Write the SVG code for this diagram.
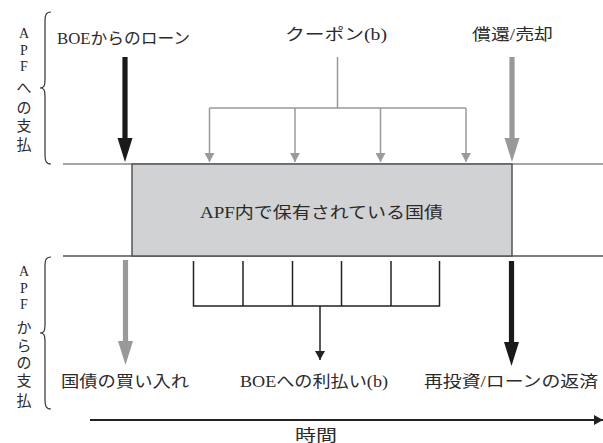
<svg xmlns="http://www.w3.org/2000/svg" width="603" height="443" viewBox="0 0 603 443">
<style>
text{font-family:"Liberation Serif","Noto Sans CJK JP",serif;fill:#2a2a2a;font-size:16px}
.v{text-anchor:middle;font-size:15px}
.l{font-size:14px}
.g{stroke:#9a9a9a;stroke-width:1.5;fill:none}
.k{stroke:#222;stroke-width:1.5;fill:none}
.br{stroke:#333;stroke-width:1.2;fill:none}
</style>
<defs>
<path id="big" d="M-2.6,-105 H2.6 V-24 H7.5 L0,0 L-7.5,-24 H-2.6 Z"/>
<marker id="ag" markerWidth="10" markerHeight="9" refX="5" refY="9" markerUnits="userSpaceOnUse" viewBox="0 0 10 9"><path d="M0,0 H10 L5,9 Z" fill="#9a9a9a"/></marker>
<marker id="ak" markerWidth="10" markerHeight="9" refX="5" refY="9" markerUnits="userSpaceOnUse" viewBox="0 0 10 9"><path d="M0,0 H10 L5,9 Z" fill="#222"/></marker>
<marker id="at" markerWidth="9" markerHeight="10" refX="9" refY="5" markerUnits="userSpaceOnUse" viewBox="0 0 9 10"><path d="M0,0 L9,5 L0,10 Z" fill="#222"/></marker>
</defs>
<g id="baselines">
<line x1="63" y1="164" x2="603" y2="164" stroke="#888" stroke-width="1.5"/>
<line x1="63" y1="256" x2="603" y2="256" stroke="#555" stroke-width="1.5"/>
</g>
<g id="bonds">
<rect x="132" y="164" width="380" height="92" fill="#d1d2d4" stroke="#555" stroke-width="1.5"/>
<text x="321.5" y="218" text-anchor="middle" font-size="17" textLength="243" lengthAdjust="spacingAndGlyphs">APF内で保有されている国債</text>
</g>
<g id="brace-top">
<path class="br" d="M51,12 C46,12 45,15 45,21 V80 C45,86 44,88 40,88 C44,88 45,90 45,96 V155 C45,161 46,164 51,164"/>
<text class="v l" x="24" y="38">A</text>
<text class="v l" x="24" y="54.5">P</text>
<text class="v l" x="24" y="71">F</text>
<text class="v" x="24" y="93">へ</text>
<text class="v" x="24" y="113">の</text>
<text class="v" x="24" y="131">支</text>
<text class="v" x="24" y="150">払</text>
</g>
<g id="brace-bottom">
<path class="br" d="M51,257 C46,257 45,260 45,266 V325 C45,331 44,333 40,333 C44,333 45,335 45,341 V400 C45,406 46,409 51,409"/>
<text class="v l" x="24" y="276">A</text>
<text class="v l" x="24" y="292.5">P</text>
<text class="v l" x="24" y="309">F</text>
<text class="v" x="24" y="333">か</text>
<text class="v" x="24" y="351">ら</text>
<text class="v" x="24" y="368">の</text>
<text class="v" x="24" y="386">支</text>
<text class="v" x="24" y="406">払</text>
</g>
<g id="labels">
<text x="57" y="44" textLength="133" lengthAdjust="spacingAndGlyphs">BOEからのローン</text>
<text x="285" y="40" textLength="102" lengthAdjust="spacingAndGlyphs">クーポン(b)</text>
<text x="472" y="40" textLength="81" lengthAdjust="spacingAndGlyphs">償還/売却</text>
<text x="61" y="387" textLength="128" lengthAdjust="spacingAndGlyphs">国債の買い入れ</text>
<text x="240" y="387" textLength="148" lengthAdjust="spacingAndGlyphs">BOEへの利払い(b)</text>
<text x="424" y="387" textLength="174" lengthAdjust="spacingAndGlyphs">再投資/ローンの返済</text>
<text x="295" y="441" textLength="42" lengthAdjust="spacingAndGlyphs">時間</text>
</g>
<g id="connectors">
<use href="#big" transform="translate(125,162)" fill="#1a1a1a"/>
<use href="#big" transform="translate(512,162)" fill="#999"/>
<use href="#big" transform="translate(125.5,365)" fill="#999"/>
<use href="#big" transform="translate(511.5,366)" fill="#1a1a1a"/>
<path class="g" d="M337.5,57 V108 M209.5,108 H466"/>
<line class="g" x1="209.5" y1="108" x2="209.5" y2="162" marker-end="url(#ag)"/>
<line class="g" x1="295" y1="108" x2="295" y2="162" marker-end="url(#ag)"/>
<line class="g" x1="380.5" y1="108" x2="380.5" y2="162" marker-end="url(#ag)"/>
<line class="g" x1="466" y1="108" x2="466" y2="162" marker-end="url(#ag)"/>
<path class="k" d="M193.5,261 V306 H439.5 V261 M243,261 V306 M292.5,261 V306 M341.5,261 V306 M391,261 V306"/>
<line class="k" x1="320" y1="306" x2="320" y2="360" marker-end="url(#ak)"/>
<line x1="90" y1="420" x2="603" y2="420" stroke="#222" stroke-width="2" marker-end="url(#at)"/>
</g>
</svg>
